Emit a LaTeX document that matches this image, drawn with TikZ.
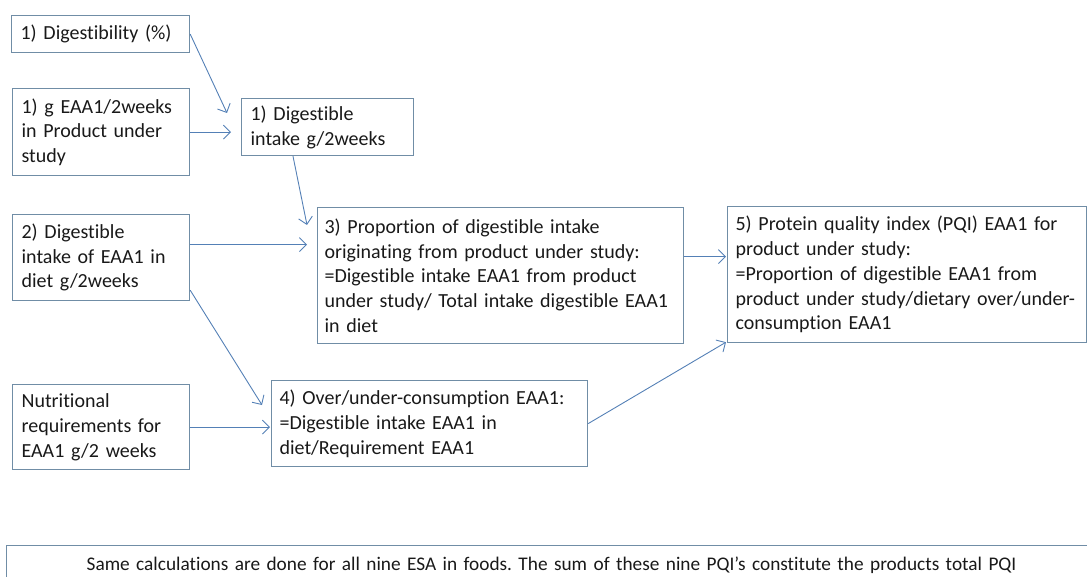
\documentclass[tikz,border=0pt]{standalone}
\usepackage{fontspec}
\setmainfont{Carlito}[Ligatures=NoCommon]
\usepackage{tikz}
\usetikzlibrary{positioning}
\usetikzlibrary{calc}
\usetikzlibrary{arrows.meta}
\definecolor{boxline}{RGB}{112,141,166}
\definecolor{linkblue}{RGB}{84,128,182}
\frenchspacing
\tikzset{every picture/.style={x=1pt,y=1pt},
  calcbox/.style={draw=boxline, line width=1.2pt, anchor=north west, align=left, inner xsep=9pt, inner ysep=0pt, font=\fontsize{20}{24.7}\selectfont, text=black!90},
  link/.style={draw=linkblue, line width=0.9pt, -{Straight Barb[length=7pt,width=14pt]}}}
\begin{document}
\begin{tikzpicture}
\useasboundingbox (0,0) rectangle (1087,-577);
\node (dig) [calcbox, text width=160pt, minimum height=37pt] at (11,-15) {1) Digestibility (\%)};
\node (gprod) [calcbox, text width=159pt, minimum height=87pt] at (12,-88) {1) g EAA1/2weeks\\ in Product under\\ study};
\node (digint) [calcbox, text width=154pt, minimum height=57pt] at (241,-98) {1) Digestible\\ intake g/2weeks};
\node (digdiet) [calcbox, text width=159pt, minimum height=86pt] at (12,-214) {2) Digestible\\ intake of EAA1 in\\ diet g/2weeks};
\node (prop) [calcbox, text width=352pt, minimum height=136pt, inner xsep=7pt] at (317,-207) {3) Proportion of digestible intake\\ originating from product under study:\\ =Digestible intake EAA1 from product\\ under study/ Total intake digestible EAA1\\ in diet};
\node (req) [calcbox, text width=159pt, minimum height=85pt] at (12,-384) {Nutritional\\ requirements for\\ EAA1 g/2 weeks};
\node (over) [calcbox, text width=300pt, minimum height=86pt, inner xsep=8pt] at (271,-380) {4) Over/under-consumption EAA1:\\ =Digestible intake EAA1 in\\ diet/Requirement EAA1};
\node (pqi) [calcbox, text width=343pt, minimum height=136pt, inner xsep=8pt] at (727,-206) {5) Protein quality index (PQI) EAA1 for\\ product under study:\\ =Proportion of digestible EAA1 from\\ product under study/dietary over/under-\\ consumption EAA1};
\node (note) [calcbox, text width=1072pt, minimum height=40pt, align=center, font=\fontsize{19.3}{24}\selectfont] at (6,-545) {Same calculations are done for all nine ESA in foods. The sum of these nine PQI’s constitute the products total PQI};
\draw [link] (dig.east) -- ([xshift=-14pt,yshift=-15pt]digint.north west);
\draw [link] (gprod.east) -- ([xshift=-10pt]gprod.east -| digint.west);
\draw [link] ([xshift=52pt]digint.south west) -- ([xshift=-10pt,yshift=-18pt]prop.north west);
\draw [link] ([yshift=13pt]digdiet.east) -- ([xshift=-10pt,yshift=13pt]digdiet.east -| prop.west);
\draw [link] ([yshift=11pt]digdiet.south east) -- ([xshift=-9pt,yshift=-25pt]over.north west);
\draw [link] (req.east) -- ([xshift=-1pt]req.east -| over.west);
\draw [link] (over.east) -- ([xshift=-1pt,yshift=1pt]pqi.south west);
\draw [link] ([yshift=19pt]prop.east) -- ([xshift=-1pt,yshift=19pt]prop.east -| pqi.west);
\end{tikzpicture}
\end{document}
